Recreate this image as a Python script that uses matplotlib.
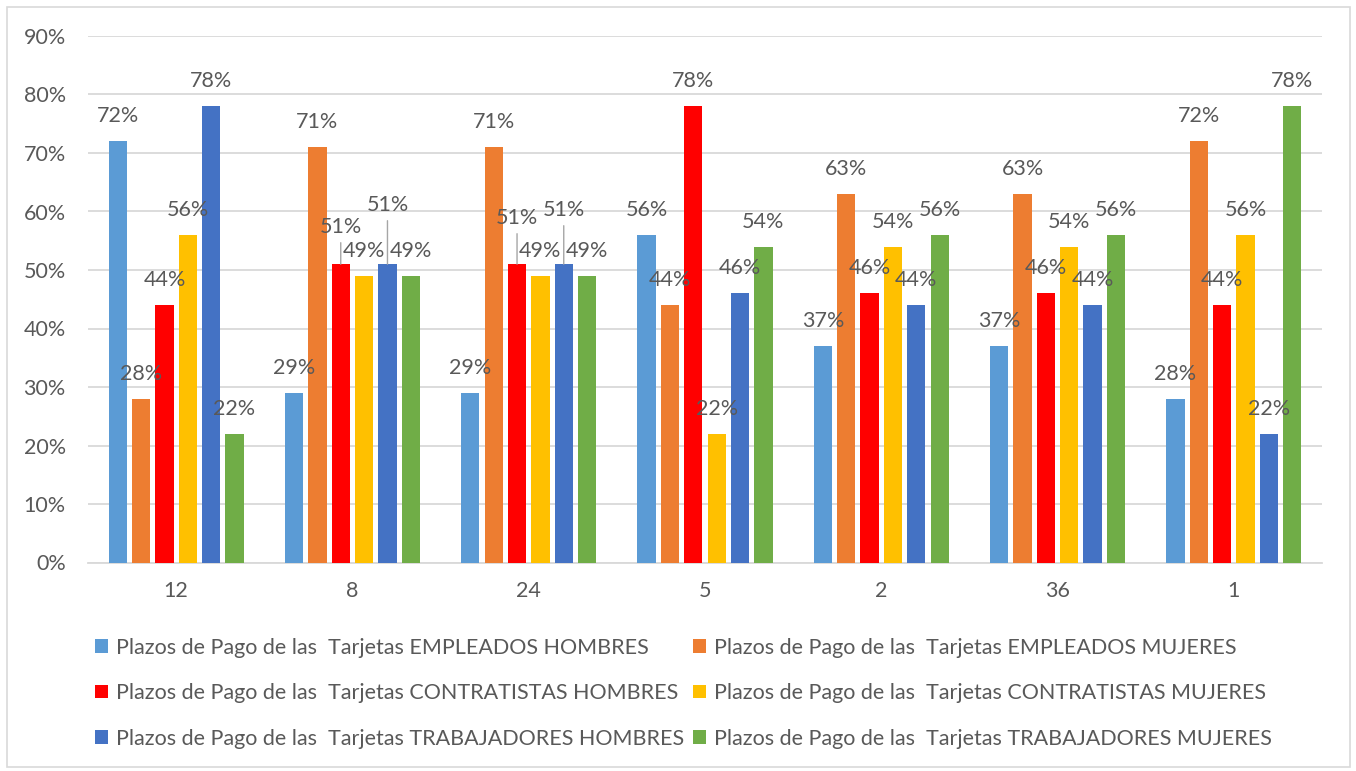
import numpy as np
import matplotlib
matplotlib.use('Agg')
import matplotlib.pyplot as plt
from matplotlib.patches import Rectangle

plt.rcParams['font.family'] = ['Lato', 'DejaVu Sans']

categories = ['12', '8', '24', '5', '2', '36', '1']
series_names = [
    'Plazos de Pago de las  Tarjetas EMPLEADOS HOMBRES',
    'Plazos de Pago de las  Tarjetas EMPLEADOS MUJERES',
    'Plazos de Pago de las  Tarjetas CONTRATISTAS HOMBRES',
    'Plazos de Pago de las  Tarjetas CONTRATISTAS MUJERES',
    'Plazos de Pago de las  Tarjetas TRABAJADORES HOMBRES',
    'Plazos de Pago de las  Tarjetas TRABAJADORES MUJERES',
]
empleados_h = [72, 29, 29, 56, 37, 37, 28]
empleados_m = [28, 71, 71, 44, 63, 63, 72]
contratistas_h = [44, 51, 51, 78, 46, 46, 44]
contratistas_m = [56, 49, 49, 22, 54, 54, 56]
trabajadores_h = [78, 51, 51, 46, 44, 44, 22]
trabajadores_m = [22, 49, 49, 54, 56, 56, 78]
series = [empleados_h, empleados_m, contratistas_h, contratistas_m, trabajadores_h, trabajadores_m]
colors = ['#5B9BD5', '#ED7D31', '#FF0000', '#FFC000', '#4472C4', '#70AD47']

txt = '#595959'
fs = 15.5
W, H = 1356, 771
fig = plt.figure(figsize=(W / 100, H / 100), dpi=100)
fig.patches.append(Rectangle((7 / W, 4 / H), 1343 / W, 760 / H, transform=fig.transFigure,
                             fill=False, edgecolor='#d9d9d9', lw=1.2))
ax = fig.add_axes([88 / W, (H - 562.5) / H, 1234 / W, 526.5 / H])

x = np.arange(len(categories))
pitch = 0.1325
width = 0.104
# label offsets in pixels above the bar top; a few Excel labels sit higher with leader lines
lifted = {(1, 2): 37, (1, 4): 59, (2, 2): 46, (2, 4): 54}

for i, (vals, c, name) in enumerate(zip(series, colors, series_names)):
    xs = x + (i - 2.5) * pitch
    ax.bar(xs, vals, width, color=c, label=name, zorder=3)
    for j, (xx, v) in enumerate(zip(xs, vals)):
        off = lifted.get((j, i), 25) * 0.72
        if (j, i) in lifted:
            ax.annotate(f'{v}%', xy=(xx, v), xytext=(0, off), textcoords='offset points',
                        ha='center', va='center', fontsize=fs, color=txt, zorder=5,
                        arrowprops=dict(arrowstyle='-', color='#a6a6a6', lw=1,
                                        shrinkA=2, shrinkB=0))
        else:
            ax.annotate(f'{v}%', xy=(xx, v), xytext=(0, off), textcoords='offset points',
                        ha='center', va='center', fontsize=fs, color=txt, zorder=5)

ax.set_xlim(-0.5, len(categories) - 0.5)
ax.set_ylim(0, 90)
ax.set_yticks(np.arange(0, 91, 10))
ax.set_yticklabels([f'{t}%' for t in range(0, 91, 10)])
ax.set_xticks(x)
ax.set_xticklabels(categories)
ax.tick_params(axis='y', length=0, pad=16, labelsize=fs, labelcolor=txt)
ax.tick_params(axis='x', length=0, pad=13, labelsize=fs, labelcolor=txt)
ax.grid(axis='y', color='#d9d9d9', lw=1.3, zorder=0)
for s in ['top', 'right', 'left']:
    ax.spines[s].set_visible(False)
ax.spines['bottom'].set_color('#d9d9d9')
ax.spines['bottom'].set_linewidth(1.3)

# legend is filled row by row in the reference
handles, labels = ax.get_legend_handles_labels()
order = [0, 2, 4, 1, 3, 5]
leg = fig.legend([handles[k] for k in order], [labels[k] for k in order], ncol=2,
                 loc='center', bbox_to_anchor=(0.504, 0.101),
                 frameon=False, fontsize=fs, handlelength=0.6, handleheight=0.6,
                 handletextpad=0.35, columnspacing=0.45, labelspacing=1.18)
for t in leg.get_texts():
    t.set_color(txt)

fig.savefig('out.png', dpi=100)
